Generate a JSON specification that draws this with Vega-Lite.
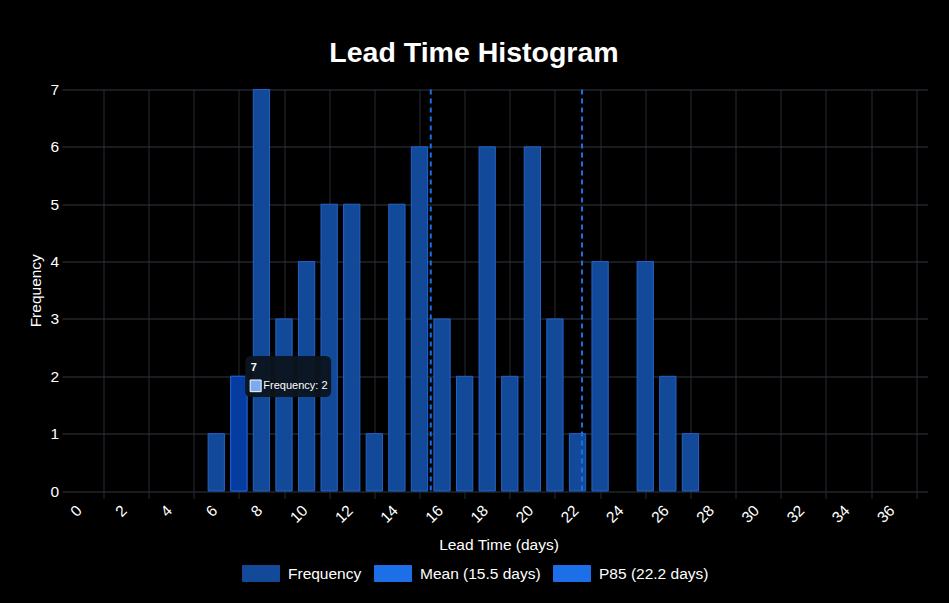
{
  "$schema": "https://vega.github.io/schema/vega-lite/v6.json",
  "width": 858,
  "height": 401.5,
  "autosize": {"type": "none"},
  "padding": {"left": 69.5, "top": 89.5, "right": 21.5, "bottom": 112},
  "background": "#000000",
  "config": {
    "view": {"stroke": null},
    "font": "Liberation Sans",
    "axis": {
      "labelFont": "Liberation Sans",
      "titleFont": "Liberation Sans",
      "labelColor": "#ffffff",
      "titleColor": "#ffffff",
      "labelFontSize": 15.5,
      "titleFontSize": 15.5,
      "titleFontWeight": "normal",
      "domain": false
    },
    "legend": {"labelFont": "Liberation Sans", "labelColor": "#ffffff", "labelFontSize": 15.5}
  },
  "title": {
    "text": "Lead Time Histogram",
    "fontSize": 28.5,
    "font": "Liberation Sans",
    "fontWeight": "bold",
    "color": "#ffffff",
    "anchor": "middle",
    "frame": "group",
    "dx": -24.5,
    "offset": 15
  },
  "datasets": {
    "bars": [
      {"lead": 6, "freq": 1},
      {"lead": 7, "freq": 2},
      {"lead": 8, "freq": 7},
      {"lead": 9, "freq": 3},
      {"lead": 10, "freq": 4},
      {"lead": 11, "freq": 5},
      {"lead": 12, "freq": 5},
      {"lead": 13, "freq": 1},
      {"lead": 14, "freq": 5},
      {"lead": 15, "freq": 6},
      {"lead": 16, "freq": 3},
      {"lead": 17, "freq": 2},
      {"lead": 18, "freq": 6},
      {"lead": 19, "freq": 2},
      {"lead": 20, "freq": 6},
      {"lead": 21, "freq": 3},
      {"lead": 22, "freq": 1},
      {"lead": 23, "freq": 4},
      {"lead": 25, "freq": 4},
      {"lead": 26, "freq": 2},
      {"lead": 27, "freq": 1}
    ],
    "stats": [
      {"stat": "Mean (15.5 days)", "days": 15.5},
      {"stat": "P85 (22.2 days)", "days": 22.2}
    ],
    "hover": [
      {"lead": 7, "freq": 2}
    ]
  },
  "layer": [
    {
      "data": {"name": "bars"},
      "mark": {"type": "bar", "orient": "vertical", "width": 16.3, "stroke": "#2463c8", "strokeWidth": 1},
      "encoding": {
        "x": {
          "field": "lead",
          "type": "quantitative",
          "scale": {"domain": [-0.5, 37.5], "nice": false, "zero": false, "padding": 0},
          "axis": {
            "orient": "bottom",
            "values": [1, 3, 5, 7, 9, 11, 13, 15, 17, 19, 21, 23, 25, 27, 29, 31, 33, 35, 37],
            "labelExpr": "datum.value - 1",
            "labelOffset": -24.6,
            "labelAngle": -45,
            "labelAlign": "right",
            "labelBaseline": "middle",
            "labelPadding": 9,
            "labelFlush": false,
            "labelOverlap": false,
            "title": "Lead Time (days)",
            "titlePadding": 12,
            "grid": true,
            "gridColor": "#262b34",
            "gridWidth": 1,
            "ticks": true,
            "tickColor": "#262b34",
            "tickSize": 7.5
          }
        },
        "y": {
          "field": "freq",
          "type": "quantitative",
          "scale": {"domain": [0, 7], "nice": false, "padding": 0},
          "axis": {
            "values": [0, 1, 2, 3, 4, 5, 6, 7],
            "format": "d",
            "grid": true,
            "gridColor": "#30363f",
            "tickColor": "#30363f",
            "tickSize": 7.5,
            "labelPadding": 3.5,
            "title": "Frequency",
            "titlePadding": 6.5
          }
        },
        "color": {
          "datum": "Frequency",
          "type": "nominal",
          "scale": {
            "domain": ["Frequency", "Mean (15.5 days)", "P85 (22.2 days)"],
            "range": ["#124a99", "#1c6fe6", "#1c6fe6"]
          },
          "legend": {
            "orient": "none",
            "legendX": 172.5,
            "legendY": 449,
            "direction": "horizontal",
            "columns": 3,
            "title": null,
            "symbolType": "M-1,-0.432L1,-0.432L1,0.432L-1,0.432Z",
            "symbolSize": 1369,
            "symbolStrokeWidth": 1,
            "labelOffset": 8,
            "columnPadding": 10,
            "padding": 0,
            "encode": {
              "symbols": {
                "update": {
                  "fill": {"scale": "color", "field": "value"},
                  "stroke": {"signal": "datum.value === 'Frequency' ? '#2463c8' : '#1c6fe6'"},
                  "strokeWidth": {"signal": "datum.value === 'Frequency' ? 1 : 2.5"},
                  "strokeDash": {"signal": "datum.value === 'Frequency' ? [] : [3, 2]"},
                  "opacity": {"value": 1}
                }
              }
            }
          }
        }
      }
    },
    {
      "data": {"name": "bars"},
      "transform": [{"filter": "datum.lead == 7"}],
      "mark": {"type": "bar", "orient": "vertical", "width": 16.3, "color": "#063c9f", "stroke": "#1f5fd0", "strokeWidth": 1},
      "encoding": {
        "x": {"field": "lead", "type": "quantitative"},
        "y": {"field": "freq", "type": "quantitative"}
      }
    },
    {
      "data": {"name": "stats"},
      "mark": {"type": "rule", "strokeDash": [5, 4], "strokeWidth": 2},
      "encoding": {
        "x": {"field": "days", "type": "quantitative"},
        "color": {"field": "stat", "type": "nominal"}
      }
    },
    {
      "data": {"name": "hover"},
      "encoding": {
        "x": {"field": "lead", "type": "quantitative"},
        "y": {"field": "freq", "type": "quantitative"}
      },
      "layer": [
        {
          "mark": {
            "type": "point",
            "shape": "M0.123,-0.203L0.863,-0.203Q0.923,-0.203 0.923,-0.143L0.923,0.147Q0.923,0.207 0.863,0.207L0.123,0.207Q0.063,0.207 0.063,0.147L0.063,-0.143Q0.063,-0.203 0.123,-0.203Z",
            "size": 40000,
            "filled": true,
            "fill": "#0c141e",
            "strokeWidth": 0,
            "opacity": 0.95
          }
        },
        {
          "mark": {
            "type": "point",
            "shape": "M0.113,0.037L0.223,0.037L0.223,0.154L0.113,0.154Z",
            "size": 40000,
            "filled": true,
            "fill": "#7aaaf2",
            "stroke": "#ffffff",
            "strokeWidth": 1,
            "opacity": 1
          }
        },
        {
          "mark": {"type": "text", "text": "7", "font": "Liberation Sans", "fontSize": 11, "fontWeight": "bold", "color": "#ffffff", "align": "left", "baseline": "alphabetic", "dx": 12, "dy": -5.5}
        },
        {
          "mark": {"type": "text", "text": "Frequency: 2", "font": "Liberation Sans", "fontSize": 11, "color": "#ffffff", "align": "left", "baseline": "alphabetic", "dx": 24.5, "dy": 13}
        }
      ]
    }
  ]
}
